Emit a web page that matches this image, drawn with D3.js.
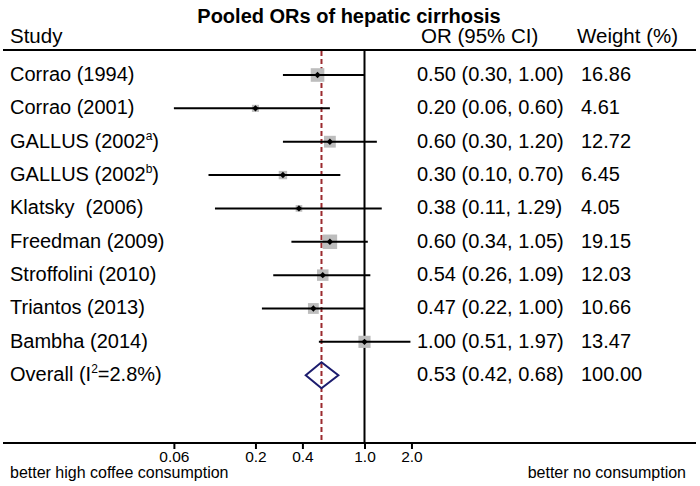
<!DOCTYPE html>
<html>
<head>
<meta charset="utf-8">
<script src="https://cdn.jsdelivr.net/npm/d3@7"></script>
<style>
  body { margin: 0; background: #fff; }
  svg text { font-family: "Liberation Sans", Arial, sans-serif; fill: #000; }
</style>
</head>
<body>
<div id="forest"></div>
<script>
// forest plot - pooled ORs of hepatic cirrhosis

// ---------- data ----------
// "|" marks the superscript part of a study name
const studies = ["Corrao (1994)", "Corrao (2001)", "GALLUS (2002|a|)", "GALLUS (2002|b|)",
  "Klatsky  (2006)", "Freedman (2009)", "Stroffolini (2010)", "Triantos (2013)", "Bambha (2014)"];
const orValues = [0.50, 0.20, 0.60, 0.30, 0.38, 0.60, 0.54, 0.47, 1.00];
const ciLower  = [0.30, 0.06, 0.30, 0.10, 0.11, 0.34, 0.26, 0.22, 0.51];
const ciUpper  = [1.00, 0.60, 1.20, 0.70, 1.29, 1.05, 1.09, 1.00, 1.97];
const weights  = [16.86, 4.61, 12.72, 6.45, 4.05, 19.15, 12.03, 10.66, 13.47];
const orLabels = ["0.50 (0.30, 1.00)", "0.20 (0.06, 0.60)", "0.60 (0.30, 1.20)", "0.30 (0.10, 0.70)",
  "0.38 (0.11, 1.29)", "0.60 (0.34, 1.05)", "0.54 (0.26, 1.09)", "0.47 (0.22, 1.00)", "1.00 (0.51, 1.97)"];
const weightLabels = ["16.86", "4.61", "12.72", "6.45", "4.05", "19.15", "12.03", "10.66", "13.47"];

const overallName = "Overall (I|2|=2.8%)";
const overallOR = 0.53, overallLo = 0.42, overallHi = 0.68;
const overallLabel = "0.53 (0.42, 0.68)", overallWeight = "100.00";

const tickValues = [0.06, 0.2, 0.4, 1.0, 2.0];
const tickLabels = ["0.06", "0.2", "0.4", "1.0", "2.0"];

// ---------- layout ----------
const width = 700, height = 486;
const headerY = 50, axisY = 443;

const svg = d3.select("#forest").append("svg")
  .attr("width", width)
  .attr("height", height);

// log scale: 1.0 at x=364.5, ~156px per decade
const x = d3.scaleLog().domain([0.01, 10]).range([52.5, 520.5]);
const y = d3.scaleLinear().domain([0, 9]).range([75, 375.2]);
const boxSide = d3.scaleSqrt().domain([0, 20]).range([0, 14.8]);

// writes a label, raising the part between "|" marks
const writeName = (t, name) => {
  const parts = name.split("|");
  if (parts.length === 1) { t.text(name); return; }
  t.append("tspan").text(parts[0]);
  t.append("tspan").attr("font-size", 12).attr("dy", -8).text(parts[1]);
  t.append("tspan").attr("dy", 8).text(parts[2]);
};

// title + header
svg.append("text")
  .attr("x", 349).attr("y", 23)
  .attr("text-anchor", "middle")
  .attr("font-size", 20).attr("font-weight", "bold")
  .text("Pooled ORs of hepatic cirrhosis");

const header = [["Study", 10], ["OR (95% CI)", 421], ["Weight (%)", 577]];
svg.selectAll(".hdr").data(header).join("text")
  .attr("class", "hdr")
  .attr("x", d => d[1]).attr("y", 43)
  .attr("font-size", 20.5)
  .text(d => d[0]);

svg.append("line")
  .attr("x1", 3).attr("x2", 696)
  .attr("y1", headerY).attr("y2", headerY)
  .attr("stroke", "#000").attr("stroke-width", 2);

// reference lines
svg.append("line")
  .attr("x1", x(1)).attr("x2", x(1))
  .attr("y1", headerY).attr("y2", axisY)
  .attr("stroke", "#000").attr("stroke-width", 2);

svg.append("line")
  .attr("x1", x(overallOR)).attr("x2", x(overallOR))
  .attr("y1", headerY + 1).attr("y2", axisY)
  .attr("stroke", "#9b2a2e").attr("stroke-width", 2)
  .attr("stroke-dasharray", "5,3");

// study rows
const rows = studies.map((s, i) => ({
  name: s, or: orValues[i], lo: ciLower[i], hi: ciUpper[i],
  w: weights[i], orLabel: orLabels[i], wLabel: weightLabels[i], i
}));

const g = svg.append("g");

g.selectAll(".box").data(rows).join("rect")
  .attr("class", "box")
  .attr("x", d => x(d.or) - boxSide(d.w) / 2)
  .attr("y", d => y(d.i) - boxSide(d.w) / 2)
  .attr("width", d => boxSide(d.w))
  .attr("height", d => boxSide(d.w))
  .attr("fill", "#bdbdbd");

g.selectAll(".ci").data(rows).join("line")
  .attr("class", "ci")
  .attr("x1", d => x(d.lo)).attr("x2", d => x(d.hi))
  .attr("y1", d => y(d.i)).attr("y2", d => y(d.i))
  .attr("stroke", "#000").attr("stroke-width", 2);

g.selectAll(".pt").data(rows).join("path")
  .attr("class", "pt")
  .attr("d", d => {
    const cx = x(d.or), cy = y(d.i), r = 3.2;
    return `M${cx - r},${cy}L${cx},${cy - r}L${cx + r},${cy}L${cx},${cy + r}Z`;
  })
  .attr("fill", "#000");

g.selectAll(".name").data(rows).join("text")
  .attr("class", "name")
  .attr("x", 10).attr("y", d => y(d.i) + 6)
  .attr("font-size", 20)
  .style("white-space", "pre")
  .each(function(d) { writeName(d3.select(this), d.name); });

g.selectAll(".orl").data(rows).join("text")
  .attr("class", "orl")
  .attr("x", 417).attr("y", d => y(d.i) + 6)
  .attr("font-size", 20)
  .text(d => d.orLabel);

g.selectAll(".wl").data(rows).join("text")
  .attr("class", "wl")
  .attr("x", 581).attr("y", d => y(d.i) + 6)
  .attr("font-size", 20)
  .text(d => d.wLabel);

// overall row
const oy = y(9);
svg.append("path")
  .attr("d", `M${x(overallLo)},${oy}L${x(overallOR)},${oy - 13}L${x(overallHi)},${oy}L${x(overallOR)},${oy + 13}Z`)
  .attr("fill", "none")
  .attr("stroke", "#1c1c6e").attr("stroke-width", 2);

writeName(svg.append("text").attr("x", 10).attr("y", oy + 6).attr("font-size", 20), overallName);
svg.append("text").attr("x", 417).attr("y", oy + 6).attr("font-size", 20).text(overallLabel);
svg.append("text").attr("x", 581).attr("y", oy + 6).attr("font-size", 20).text(overallWeight);

// ---------- axis ----------
svg.append("line")
  .attr("x1", 3).attr("x2", 696)
  .attr("y1", axisY).attr("y2", axisY)
  .attr("stroke", "#000").attr("stroke-width", 2);

const axis = d3.axisBottom(x)
  .tickValues(tickValues)
  .tickFormat((d, i) => tickLabels[i])
  .tickSize(6)
  .tickPadding(2);

const axG = svg.append("g")
  .attr("transform", `translate(0, ${axisY})`)
  .call(axis);
axG.select(".domain").remove();
axG.selectAll(".tick line").attr("stroke", "#000").attr("stroke-width", 2);
axG.selectAll(".tick text")
  .attr("font-size", 15.5)
  .attr("font-family", "Liberation Sans, Arial, sans-serif")
  .attr("fill", "#000");

svg.append("text")
  .attr("x", 10).attr("y", 478)
  .attr("font-size", 16)
  .text("better high coffee consumption");

svg.append("text")
  .attr("x", 686).attr("y", 478)
  .attr("text-anchor", "end")
  .attr("font-size", 16)
  .text("better no consumption");
</script>
</body>
</html>
